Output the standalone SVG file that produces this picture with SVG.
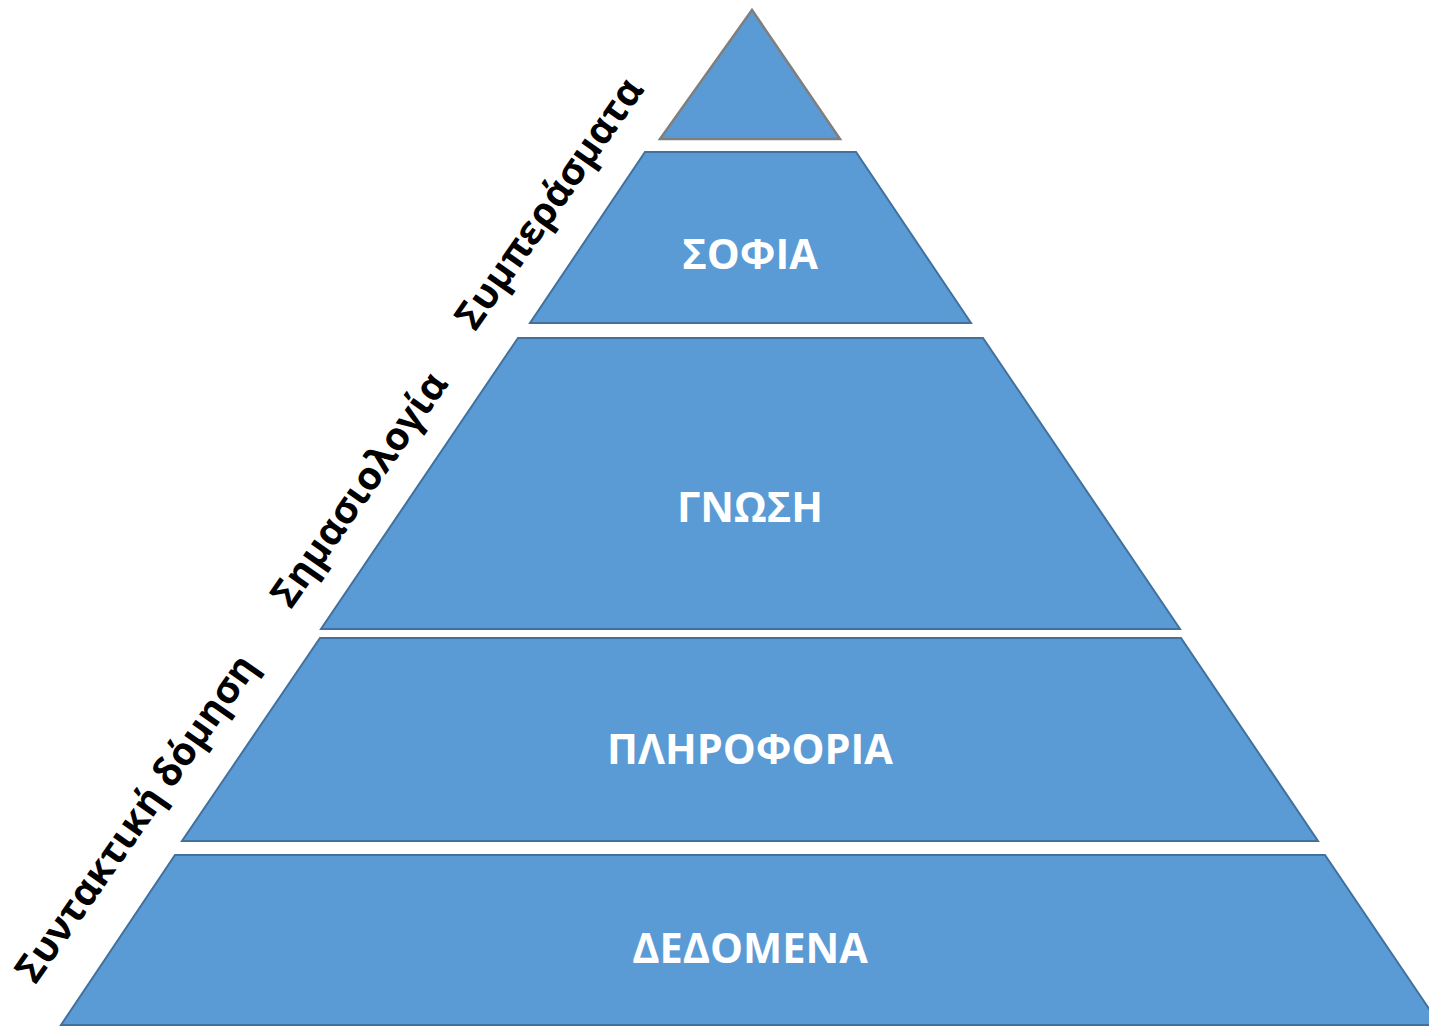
<svg xmlns="http://www.w3.org/2000/svg" width="1429" height="1026" viewBox="0 0 1429 1026">
  <style>
    .tier { fill: #5B9BD5; stroke: #41719C; stroke-width: 2; stroke-linejoin: miter; }
    .apex { fill: #5B9BD5; stroke: #7F7F7F; stroke-width: 2.5; }
    .lbl { font-family: "Open Sans", "Noto Sans", "DejaVu Sans", sans-serif; font-weight: bold; font-size: 41.5px; fill: #FFFFFF; text-anchor: middle; }
    .side { font-family: "Open Sans", "Noto Sans", "DejaVu Sans", sans-serif; font-weight: bold; font-size: 39px; fill: #000000; text-anchor: middle; }
  </style>
  <rect width="1429" height="1026" fill="#FFFFFF"/>

  <g id="apex">
    <polygon class="apex" points="752,10 660,139 840,139"/>
  </g>

  <g id="sofia">
    <polygon class="tier" points="645,152 856,152 971,323 530,323"/>
    <text class="lbl" x="750" y="269">ΣΟΦΙΑ</text>
  </g>

  <g id="gnosi">
    <polygon class="tier" points="518,338 983,338 1180,629 321,629"/>
    <text class="lbl" x="750" y="522">ΓΝΩΣΗ</text>
  </g>

  <g id="pliroforia">
    <polygon class="tier" points="320,638 1181,638 1318,841 182,841"/>
    <text class="lbl" x="750" y="764">ΠΛΗΡΟΦΟΡΙΑ</text>
  </g>

  <g id="dedomena">
    <polygon class="tier" points="175,855 1325,855 1440,1025 61,1025"/>
    <text class="lbl" x="750" y="963">ΔΕΔΟΜΕΝΑ</text>
  </g>

  <!-- labels set along the left slope of the pyramid -->
  <g id="side-syntaktiki">
    <text class="side" transform="translate(147,826) rotate(-55)">Συντακτική δόμηση</text>
  </g>
  <g id="side-simasiologia">
    <text class="side" transform="translate(370,497) rotate(-55)">Σημασιολογία</text>
  </g>
  <g id="side-symperasmata">
    <text class="side" transform="translate(560,211) rotate(-55)">Συμπεράσματα</text>
  </g>
</svg>
